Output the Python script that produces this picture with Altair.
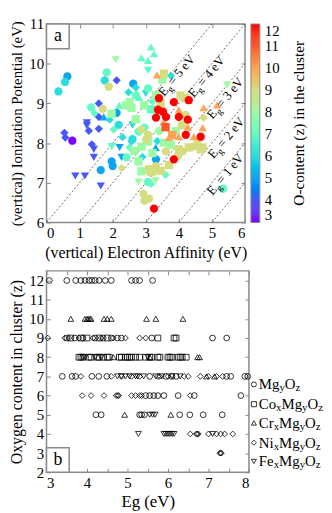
import altair as alt
import pandas as pd

FONT = "Liberation Serif"
FRAME = "#8a8a8a"

KINDS = ["Mg", "Co", "Cr", "Ni", "Fe"]
SHAPES = ["circle", "square", "triangle-up", "diamond", "triangle-down"]
Z_LEVELS = [3, 4, 5, 6, 7, 8, 9, 10, 11, 12]
Z_COLORS = ["#8000ff", "#4757fb", "#0ea4f0", "#2bdddd", "#63fbc3",
            "#9cfba4", "#d5dd80", "#ffa457", "#ff572c", "#ff0000"]
Z_TITLE = "O-content (z) in the cluster"

# ---------------- panel (a): (EA, IP, z) per cluster family ----------------
MG_PTS = [(0.63, 9.68, 5), (0.56, 9.54, 6), (0.36, 9.30, 6), (1.82, 9.78, 7), (1.76, 9.58, 6),
          (1.88, 9.42, 9), (2.62, 9.50, 5), (3.07, 9.38, 7), (1.35, 8.90, 7), (1.70, 8.86, 9),
          (2.12, 8.76, 5), (0.78, 8.06, 3), (1.64, 7.32, 5), (1.97, 7.54, 5), (2.00, 7.42, 5),
          (2.18, 8.46, 6), (2.93, 6.72, 9), (2.96, 6.55, 9), (3.25, 6.35, 12), (2.42, 7.64, 7),
          (3.31, 7.59, 5), (2.78, 8.29, 7), (2.96, 8.39, 7), (2.87, 8.34, 9), (3.07, 8.21, 9),
          (3.01, 8.09, 9), (3.40, 9.13, 12), (3.85, 9.03, 12), (4.00, 8.66, 12), (4.27, 8.59, 12),
          (3.52, 8.79, 12), (3.61, 8.66, 12), (3.31, 8.64, 12), (3.37, 8.84, 12), (4.21, 8.21, 12),
          (4.66, 8.16, 12), (3.85, 7.59, 12), (4.30, 9.08, 12), (4.21, 8.71, 9), (4.57, 8.04, 9),
          (4.45, 7.92, 9), (4.12, 7.79, 9), (3.97, 7.67, 9), (3.61, 7.79, 9), (3.31, 7.42, 9),
          (3.22, 7.27, 9), (3.10, 6.60, 9), (5.34, 6.85, 7), (3.07, 7.02, 7), (2.70, 9.20, 7),
          (3.40, 8.30, 8), (2.60, 8.10, 6)]
CO_PTS = [(3.55, 9.75, 9), (3.50, 9.60, 8), (1.97, 8.74, 8), (2.57, 8.89, 8), (2.51, 9.03, 8),
          (2.87, 7.29, 8), (2.78, 7.54, 8), (3.16, 7.27, 9), (2.87, 7.91, 8), (3.07, 8.04, 8),
          (4.21, 9.13, 9), (4.05, 9.20, 9), (4.72, 7.89, 9), (4.30, 7.89, 9), (4.00, 7.84, 9),
          (3.10, 7.34, 9), (4.66, 7.84, 9), (3.55, 8.01, 8), (3.76, 7.96, 8), (3.90, 8.30, 8),
          (2.95, 8.95, 8), (3.15, 8.85, 7), (3.30, 9.20, 8), (3.45, 9.00, 9), (2.70, 8.60, 8),
          (3.60, 8.40, 11), (3.80, 8.20, 10), (2.65, 7.80, 8), (3.20, 7.75, 8), (3.45, 7.30, 9),
          (3.70, 7.45, 9), (2.40, 8.95, 8), (4.10, 8.45, 9)]
CR_PTS = [(3.16, 10.42, 7), (3.25, 10.25, 7), (3.07, 10.08, 7), (2.87, 10.15, 7), (3.34, 9.72, 10),
          (1.73, 8.66, 5), (4.00, 8.84, 10), (4.75, 8.89, 10), (5.16, 8.96, 10), (3.70, 8.14, 10),
          (4.00, 8.16, 10), (4.45, 8.16, 10), (4.27, 8.41, 10), (4.72, 8.39, 10), (2.80, 9.15, 7),
          (3.30, 7.89, 5), (3.55, 8.55, 10), (2.20, 8.95, 7)]
NI_PTS = [(2.12, 9.58, 4), (2.48, 9.28, 6), (1.58, 9.00, 4), (1.58, 8.66, 4), (1.91, 8.59, 6),
          (0.54, 8.26, 4), (0.57, 8.14, 4), (1.28, 8.31, 4), (1.58, 8.36, 4), (1.37, 7.97, 4),
          (2.27, 7.37, 9), (2.03, 8.34, 7), (2.51, 7.89, 7), (2.57, 8.04, 6), (3.16, 6.97, 7),
          (3.20, 9.05, 7), (3.76, 9.70, 6), (4.75, 8.64, 9), (2.90, 7.65, 6), (3.35, 8.05, 6),
          (2.70, 9.40, 6), (1.45, 8.75, 7), (3.60, 7.20, 7), (2.30, 8.15, 6)]
FE_PTS = [(2.09, 10.10, 8), (3.07, 9.83, 7), (1.22, 8.51, 4), (1.22, 8.44, 4), (1.43, 7.84, 4),
          (1.43, 7.64, 4), (1.97, 7.91, 7), (2.21, 7.89, 5), (0.87, 7.17, 4), (1.16, 7.17, 4),
          (1.64, 6.92, 4), (2.27, 7.64, 5), (2.78, 7.02, 8), (5.46, 9.46, 8), (3.00, 9.25, 6),
          (2.60, 8.45, 6), (3.30, 7.05, 8)]

EG_LINES = [1, 2, 3, 4, 5, 6]
LAB_EG = [5, 4, 3, 2, 1]
LAB_EA = [3.55, 4.45, 5.02, 5.05, 5.02]
LAB_IP = [9.16, 9.13, 8.59, 7.59, 6.67]

# ---------------- panel (b): {z: [Eg, ...]} per cluster family ----------------
MG_ROWS = {12: [3.07, 3.5, 3.72, 3.85, 3.95, 4.05, 4.12, 4.2, 4.3, 4.45, 4.6, 5.1, 5.2, 5.3, 5.62],
           9: [3.5, 3.7, 3.9, 4.2, 4.4, 4.6, 4.75, 4.85, 5.6, 7.1, 7.45],
           7: [3.39, 3.63, 3.72, 4.12, 4.29, 4.49, 5.55, 5.95, 6.1, 6.2, 7.45, 7.55, 7.9, 7.97],
           6: [5.45, 5.55, 5.65, 5.75, 5.9, 6.25, 6.65, 7.8],
           5: [4.22, 4.35, 5.3, 5.35, 5.42, 6.29, 6.54, 6.87, 7.34]}
CO_ROWS = {9: [3.6, 3.85, 4.0, 4.3, 4.5, 5.75, 6.15, 6.2],
           8: [3.8, 3.85, 3.9, 4.05, 4.1, 4.25, 4.3, 4.4, 4.5, 4.55, 4.8, 4.85, 4.95, 5.0, 5.05,
               5.1, 5.2, 5.3, 5.45, 5.55, 5.6, 5.75, 5.8, 6.0, 6.05, 6.1, 6.25, 6.3, 6.35, 6.45]}
CR_ROWS = {10: [3.6, 3.95, 4.0, 4.03, 4.07, 4.1, 4.42, 4.5, 4.6, 5.47, 5.7, 6.37],
           8: [4.65, 5.55, 6.73, 6.78],
           7: [6.95, 7.15],
           5: [4.93, 6.07]}
NI_ROWS = {9: [3.03, 3.45, 3.55, 3.8, 4.15, 4.35, 4.65, 4.95, 5.3, 5.45],
           7: [3.85, 4.6, 4.85, 5.1, 5.3, 5.75, 5.8, 6.0, 6.4, 6.5, 6.8, 7.0, 7.2, 7.35],
           6: [3.88, 4.1, 4.42, 4.72, 4.76, 4.78, 5.1, 5.2, 5.3, 5.35, 6.55],
           4: [6.55, 6.7, 6.72, 6.75, 7.0, 7.2, 7.3, 7.4, 7.6],
           3: [7.28, 7.3, 7.32]}
FE_ROWS = {8: [3.9, 3.95, 4.2, 4.35, 5.5],
           7: [4.75, 4.85, 4.95, 5.05, 5.2, 5.25, 5.4, 5.7, 5.85, 6.1, 6.3],
           5: [5.55, 5.62, 5.68],
           4: [5.27, 5.9, 5.95, 6.0, 6.05, 6.1, 6.15, 7.1]}

LEG_PARTS = [[("Mg", 0), ("y", 1), ("O", 0), ("z", 1)],
             [("Co", 0), ("x", 1), ("Mg", 0), ("y", 1), ("O", 0), ("z", 1)],
             [("Cr", 0), ("x", 1), ("Mg", 0), ("y", 1), ("O", 0), ("z", 1)],
             [("Ni", 0), ("x", 1), ("Mg", 0), ("y", 1), ("O", 0), ("z", 1)],
             [("Fe", 0), ("x", 1), ("Mg", 0), ("y", 1), ("O", 0), ("z", 1)]]

# ---------------- layout constants ----------------
W1 = H1 = 201
W2, H2 = 205, 204
X1, Y1 = [0, 6], [6, 11]
X2, Y2 = [3, 8], [2, 12.5]
MAIN_FS, SUB_FS = 15, 11
LEG_SYM_PX = 210
LEG_TXT_PX = 215
LEG_ROW_PX = [115, 135, 154, 174, 193]
CHAR_W = {"M": .889, "g": .5, "O": .722, "C": .667, "o": .5, "r": .333, "N": .722,
          "i": .278, "F": .556, "e": .444, "x": .5, "y": .5, "z": .444}


def axis(values, title=None, orient=None, labels=True, label_expr=None,
         label_pad=7, title_pad=4, title_size=16):
    kw = dict(values=values, grid=False, domain=False, tickSize={"expr": "-4"},
              tickColor=FRAME, tickWidth=1, labels=labels, labelPadding=label_pad,
              titlePadding=title_pad, titleFontSize=title_size, title=title,
              titleLimit=400)
    if orient:
        kw["orient"] = orient
    if label_expr:
        kw["labelExpr"] = label_expr
    return alt.Axis(**kw)


# ---------------- panel (a) ----------------
rows = []
for name, pts in zip(KINDS, [MG_PTS, CO_PTS, CR_PTS, NI_PTS, FE_PTS]):
    for ea, ip, z in pts:
        rows.append({"EA": ea, "IP": ip, "z": z, "kind": name})
top_df = pd.DataFrame(rows)

line_rows = []
for eg in EG_LINES:
    a0 = max(X1[0], Y1[0] - eg)
    a1 = min(X1[1], Y1[1] - eg)
    line_rows += [{"Eg": eg, "EA": a0, "IP": a0 + eg}, {"Eg": eg, "EA": a1, "IP": a1 + eg}]
line_df = pd.DataFrame(line_rows)

lab_df = pd.DataFrame({"EA": LAB_EA, "IP": LAB_IP,
                       "E": ["E"] * len(LAB_EG), "g": ["g"] * len(LAB_EG),
                       "rest": [f"= {e} eV" for e in LAB_EG]})

xs1 = alt.Scale(domain=X1, nice=False, zero=False)
ys1 = alt.Scale(domain=Y1, nice=False, zero=False)
shape_scale = alt.Scale(domain=KINDS, range=SHAPES)

lines = alt.Chart(line_df).mark_line(strokeDash=[2, 2], strokeWidth=0.8, color="#444").encode(
    x=alt.X("EA:Q", scale=xs1, axis=None),
    y=alt.Y("IP:Q", scale=ys1, axis=None),
    detail="Eg:N")

pts = alt.Chart(top_df).mark_point(filled=True, opacity=1, size=70, strokeWidth=0).encode(
    x=alt.X("EA:Q", scale=xs1, axis=axis(list(range(0, 7)), "(vertical) Electron Affinity (eV)",
                                          title_size=16)),
    y=alt.Y("IP:Q", scale=ys1, axis=axis(list(range(6, 12)), "(vertical) Ionization Potential (eV)",
                                          title_size=15)),
    color=alt.Color("z:Q", scale=alt.Scale(domain=Z_LEVELS, range=Z_COLORS, type="linear"),
                    legend=alt.Legend(title=None, labelFontSize=15, orient="none",
                                      legendX=W1 + 6, legendY=0,
                                      gradientLength=H1, gradientThickness=9,
                                      gradientStrokeColor=FRAME, gradientStrokeWidth=1,
                                      values=Z_LEVELS, direction="vertical",
                                      labelOffset=5, labelOverlap=False)),
    shape=alt.Shape("kind:N", scale=shape_scale, legend=None),
    order=alt.Order("z:Q"))

mirror1 = alt.Chart(line_df).mark_point(opacity=0).encode(
    x=alt.X("EA:Q", scale=xs1, axis=axis(list(range(0, 7)), None, orient="top", labels=False)),
    y=alt.Y("IP:Q", scale=ys1, axis=axis(list(range(6, 12)), None, orient="right", labels=False)))

lab_base = alt.Chart(lab_df).encode(x=alt.X("EA:Q", scale=xs1, axis=None),
                                    y=alt.Y("IP:Q", scale=ys1, axis=None))
labE = lab_base.mark_text(font=FONT, fontSize=13, angle=310, align="left",
                          baseline="alphabetic").encode(text="E:N")
labG = lab_base.mark_text(font=FONT, fontSize=9.5, angle=310, align="left",
                          baseline="alphabetic", dx=8, dy=3).encode(text="g:N")
labR = lab_base.mark_text(font=FONT, fontSize=13, angle=310, align="left",
                          baseline="alphabetic", dx=14.5).encode(text="rest:N")

ztitle = alt.Chart(pd.DataFrame({"t": [Z_TITLE]})).mark_text(
    font=FONT, fontSize=15.5, angle=270, align="center", baseline="middle").encode(
    x=alt.value(W1 + 55), y=alt.value(H1 / 2), text="t:N")

box_a = alt.Chart(pd.DataFrame({"t": ["a"]})).mark_rect(
    fill="white", stroke=FRAME, strokeWidth=1.5).encode(
    x=alt.value(0), x2=alt.value(23), y=alt.value(0), y2=alt.value(25))
txt_a = alt.Chart(pd.DataFrame({"t": ["a"]})).mark_text(
    font=FONT, fontSize=18, align="center", baseline="middle").encode(
    x=alt.value(11.5), y=alt.value(12), text="t:N")

top = alt.layer(lines, pts, mirror1, labE, labG, labR, ztitle, box_a, txt_a).resolve_axis(
    x="independent", y="independent").properties(width=W1, height=H1)

# ---------------- panel (b) ----------------
brows = []
for name, dct in zip(KINDS, [MG_ROWS, CO_ROWS, CR_ROWS, NI_ROWS, FE_ROWS]):
    for z, egs in dct.items():
        for eg in egs:
            brows.append({"Eg": eg, "z": z, "kind": name})
bot_df = pd.DataFrame(brows)

px2eg = (X2[1] - X2[0]) / W2
px2z = (Y2[1] - Y2[0]) / H2

leg_sym = pd.DataFrame({"kind": KINDS,
                        "Eg": [X2[0] + LEG_SYM_PX * px2eg] * len(KINDS),
                        "z": [Y2[1] - p * px2z for p in LEG_ROW_PX]})
piece_rows = []
for parts, ypx in zip(LEG_PARTS, LEG_ROW_PX):
    cur = LEG_TXT_PX
    for txt, sub in parts:
        fs = SUB_FS if sub else MAIN_FS
        piece_rows.append({"txt": txt, "sub": sub, "Eg": X2[0] + cur * px2eg,
                           "z": Y2[1] - ypx * px2z})
        cur += sum(CHAR_W[c] for c in txt) * fs
piece_df = pd.DataFrame(piece_rows)

xs2 = alt.Scale(domain=X2, nice=False, zero=False)
ys2 = alt.Scale(domain=Y2, nice=False, zero=False)
half_ticks = [3 + 0.5 * i for i in range(11)]

bpts = alt.Chart(bot_df).mark_point(filled=False, size=34, strokeWidth=0.8, color="black",
                                    opacity=1).encode(
    x=alt.X("Eg:Q", scale=xs2, axis=axis(half_ticks, "Eg (eV)", title_size=17,
                                          label_expr="datum.value % 1 == 0 ? format(datum.value, 'd') : ''")),
    y=alt.Y("z:Q", scale=ys2, axis=axis(list(range(2, 13)), "Oxygen content in cluster (z)",
                                         title_size=16)),
    shape=alt.Shape("kind:N", scale=shape_scale, legend=None))

mirror2 = alt.Chart(bot_df).mark_point(opacity=0).encode(
    x=alt.X("Eg:Q", scale=xs2, axis=axis(half_ticks, None, orient="top", labels=False)),
    y=alt.Y("z:Q", scale=ys2, axis=axis(list(range(2, 13)), None, orient="right", labels=False)))

lsym = alt.Chart(leg_sym).mark_point(filled=False, size=26, strokeWidth=0.8, color="black",
                                     opacity=1).encode(
    x=alt.X("Eg:Q", scale=xs2, axis=None), y=alt.Y("z:Q", scale=ys2, axis=None),
    shape=alt.Shape("kind:N", scale=shape_scale, legend=None))
lmain = alt.Chart(piece_df).transform_filter("datum.sub == 0").mark_text(
    font=FONT, fontSize=MAIN_FS, align="left", baseline="middle").encode(
    x=alt.X("Eg:Q", scale=xs2, axis=None), y=alt.Y("z:Q", scale=ys2, axis=None), text="txt:N")
lsub = alt.Chart(piece_df).transform_filter("datum.sub == 1").mark_text(
    font=FONT, fontSize=SUB_FS, align="left", baseline="middle", dy=4).encode(
    x=alt.X("Eg:Q", scale=xs2, axis=None), y=alt.Y("z:Q", scale=ys2, axis=None), text="txt:N")

box_b = alt.Chart(pd.DataFrame({"t": ["b"]})).mark_rect(
    fill="white", stroke=FRAME, strokeWidth=1.5).encode(
    x=alt.value(0), x2=alt.value(23), y=alt.value(H2 - 25), y2=alt.value(H2))
txt_b = alt.Chart(pd.DataFrame({"t": ["b"]})).mark_text(
    font=FONT, fontSize=18, align="center", baseline="middle").encode(
    x=alt.value(11.5), y=alt.value(H2 - 12.5), text="t:N")

bottom = alt.layer(bpts, mirror2, lsym, lmain, lsub, box_b, txt_b).resolve_axis(
    x="independent", y="independent").properties(width=W2, height=H2)

chart = alt.vconcat(top, bottom, spacing=8).properties(
    padding={"left": 0, "top": 5, "right": 0, "bottom": 0}
).configure_view(stroke=FRAME, strokeWidth=1.5).configure_axis(
    labelFont=FONT, titleFont=FONT, labelFontSize=15, titleFontWeight="normal",
    labelColor="black", titleColor="black"
).configure_legend(labelFont=FONT, titleFont=FONT, titleFontWeight="normal",
                   labelColor="black", titleColor="black")

chart.save("out.html", embed_options={"renderer": "svg", "actions": False})
